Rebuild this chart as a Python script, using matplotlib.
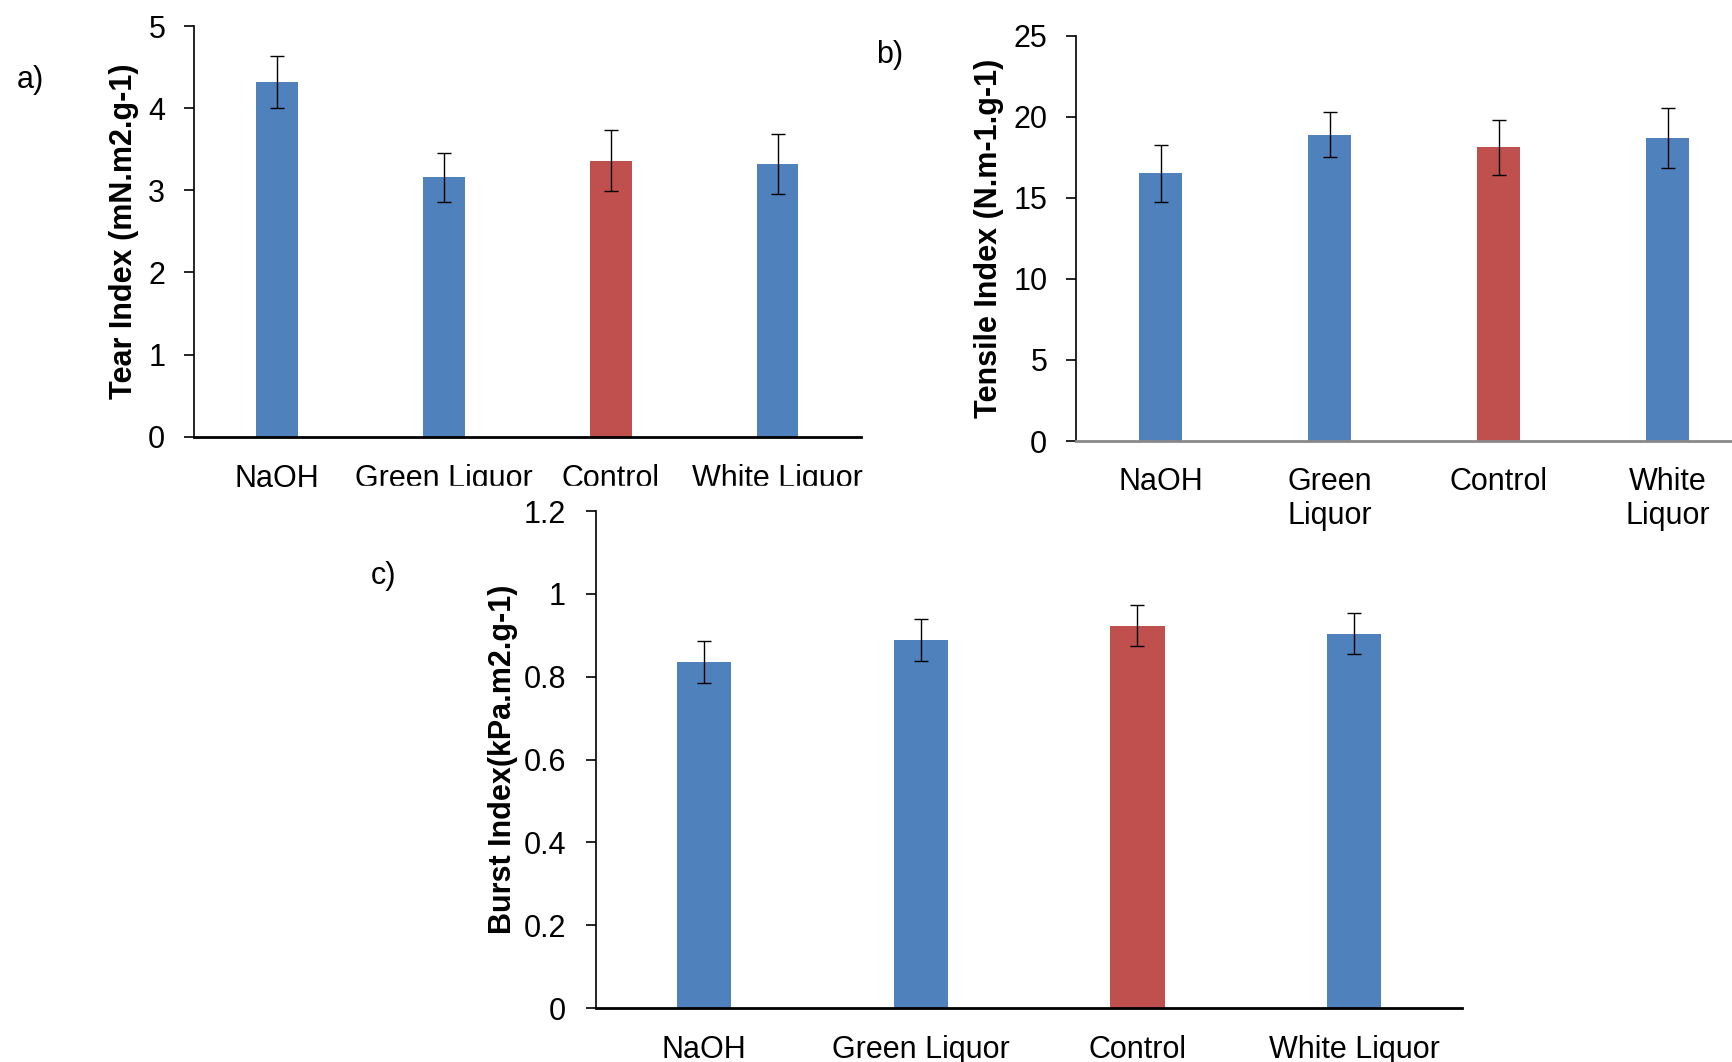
import matplotlib
matplotlib.use("Agg")
import matplotlib.pyplot as plt
from matplotlib.patches import Rectangle

plt.rcParams['font.family'] = ['Liberation Sans', 'DejaVu Sans']
plt.rcParams['font.size'] = 22

# data
categories = ["NaOH", "Green Liquor", "Control", "White Liquor"]
categories_b = ["NaOH", "Green\nLiquor", "Control", "White\nLiquor"]
bar_colors = ["#4F81BD", "#4F81BD", "#C0504D", "#4F81BD"]

tear = [4.32, 3.16, 3.36, 3.32]
tear_err = [0.32, 0.30, 0.37, 0.37]
tear_ticks = [0, 1, 2, 3, 4, 5]

tensile = [16.5, 18.9, 18.1, 18.7]
tensile_err = [1.75, 1.36, 1.70, 1.86]
tensile_ticks = [0, 5, 10, 15, 20, 25]

burst = [0.836, 0.889, 0.923, 0.904]
burst_err = [0.050, 0.051, 0.050, 0.050]
burst_ticks = [0, 0.2, 0.4, 0.6, 0.8, 1.0, 1.2]
burst_ticklabels = ["0", "0.2", "0.4", "0.6", "0.8", "1", "1.2"]


def draw_panel(ax, values, errors, labels, ticks, ticklabels, ylabel,
               label_x, xpad, ypad, xaxis_color):
    x = list(range(len(values)))
    ax.bar(x, values, width=0.25, color=bar_colors, yerr=errors, capsize=4.7,
           error_kw=dict(elinewidth=1.0, ecolor="black", capthick=1.0))
    ax.set_xlim(-0.5, len(values) - 0.5)
    ax.set_ylim(ticks[0], ticks[-1])
    ax.set_yticks(ticks)
    ax.set_yticklabels(ticklabels)
    ax.set_xticks(x)
    ax.set_xticklabels(labels)
    ax.tick_params(axis="x", length=0, pad=xpad)
    ax.tick_params(axis="y", length=7, width=1.2, pad=ypad, direction="out")
    ax.spines["top"].set_visible(False)
    ax.spines["right"].set_visible(False)
    ax.spines["left"].set_linewidth(1.2)
    ax.spines["bottom"].set_linewidth(2.0)
    ax.spines["bottom"].set_color(xaxis_color)
    ax.set_ylabel(ylabel, fontweight="bold")
    ax.yaxis.set_label_coords(label_x, 0.5)


fig = plt.figure(figsize=(17.32, 10.62), dpi=100)

#a) tear index
ax_a = fig.add_axes([0.1118, 0.5888, 0.3853, 0.3867])
draw_panel(ax_a, tear, tear_err, categories, tear_ticks,
           [str(t) for t in tear_ticks], "Tear Index (mN.m2.g-1)",
           -0.082, 19.5, 13.4, "black")

#b) tensile index (runs off the right edge, as in the original)
ax_b = fig.add_axes([0.6213, 0.5847, 0.3903, 0.3818])
draw_panel(ax_b, tensile, tensile_err, categories_b, tensile_ticks,
           [str(t) for t in tensile_ticks], "Tensile Index (N.m-1.g-1)",
           -0.1065, 18.5, 13.7, "#898989")
ax_b.set_zorder(2)

#c) burst index
ax_c = fig.add_axes([0.3441, 0.0508, 0.5002, 0.468])
draw_panel(ax_c, burst, burst_err, categories, burst_ticks,
           burst_ticklabels, "Burst Index(kPa.m2.g-1)",
           -0.090, 19.5, 14.7, "black")

fig.text(30 / 1732, 1 - 80 / 1062, "a)", ha="center", va="center")
fig.text(890 / 1732, 1 - 55 / 1062, "b)", ha="center", va="center")
fig.text(383 / 1732, 1 - 576 / 1062, "c)", ha="center", va="center")

# panel c's white background hides the descenders of panel a's labels
fig.add_artist(Rectangle((330 / 1732, 1 - 499 / 1062), 560 / 1732, 13 / 1062,
                         transform=fig.transFigure, color="white", zorder=5))

fig.savefig("out.png", dpi=100)
